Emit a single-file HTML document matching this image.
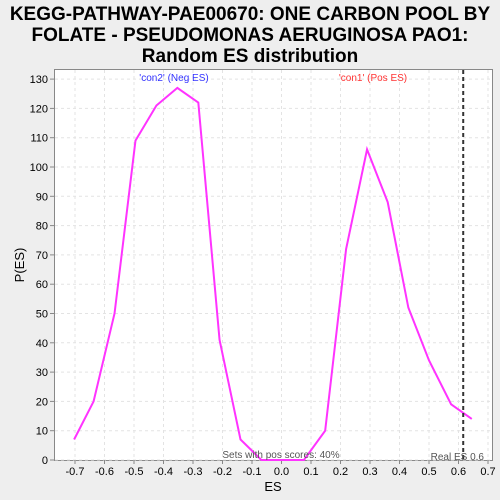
<!DOCTYPE html>
<html><head><meta charset="utf-8"><style>
body{margin:0;background:#eeeeee;font-family:"Liberation Sans",sans-serif;}
</style></head><body>
<svg width="500" height="500" style="display:block">
<rect x="0" y="0" width="500" height="500" fill="#eeeeee"/>
<g font-size="19" font-weight="bold" text-anchor="middle" fill="#000">
<text x="250" y="20">KEGG-PATHWAY-PAE00670: ONE CARBON POOL BY</text>
<text x="250" y="41">FOLATE - PSEUDOMONAS AERUGINOSA PAO1:</text>
<text x="250" y="62">Random ES distribution</text>
</g>
<rect x="54.5" y="69.5" width="438" height="391" fill="#fff" stroke="#888"/>
<g id="grid"></g><g id="axes"></g><g id="series"></g>
<text x="273" y="491" font-size="13" text-anchor="middle">ES</text>
<text x="24" y="265" font-size="13" text-anchor="middle" transform="rotate(-90 24 265)">P(ES)</text>
<text x="174" y="81" font-size="10" fill="#3333ff" text-anchor="middle">'con2' (Neg ES)</text>
<text x="373" y="81" font-size="10" fill="#ff3333" text-anchor="middle">'con1' (Pos ES)</text>
<text x="281" y="458" font-size="10" fill="#555" text-anchor="middle">Sets with pos scores: 40%</text>
<text x="484" y="460" font-size="10" fill="#555" text-anchor="end">Real ES 0.6</text>
</svg>
<script>
const esValues=[-0.703,-0.637,-0.566,-0.495,-0.424,-0.353,-0.282,-0.21,-0.139,-0.068,0.005,0.076,0.148,0.219,0.29,0.36,0.43,0.50,0.575,0.645];
const pValues=[7,20,50,109,121,127,122,41,7,0,0,0,10,72,106,88,52,34,19,14];
const xTicks=[-0.7,-0.6,-0.5,-0.4,-0.3,-0.2,-0.1,0,0.1,0.2,0.3,0.4,0.5,0.6,0.7];
const yTicks=[0,10,20,30,40,50,60,70,80,90,100,110,120,130];
const realES=[0.616];
const NS="http://www.w3.org/2000/svg";
const xs=v=>281.5+v*295, ys=v=>460-v*2.93;
function mk(t,a,p){const e=document.createElementNS(NS,t);for(const k in a)e.setAttribute(k,a[k]);p.appendChild(e);return e;}
const g=document.getElementById('grid'),ax=document.getElementById('axes'),s=document.getElementById('series');
xTicks.forEach(v=>{const x=xs(v);
const l=mk('line',{x1:x,x2:x,y1:70,y2:460,stroke:'#e3e3e3','stroke-dasharray':'3,3'},g);

mk('line',{x1:x,x2:x,y1:460,y2:464,stroke:'#888'},ax);
const t=mk('text',{x:x,y:475,'font-size':11,'text-anchor':'middle'},ax);t.textContent=v.toFixed(1);
});
yTicks.forEach(v=>{const y=ys(v);
const l=mk('line',{x1:55,x2:492,y1:y,y2:y,stroke:'#e3e3e3','stroke-dasharray':'3,3'},g);

mk('line',{x1:50,x2:54,y1:y,y2:y,stroke:'#888'},ax);
const t=mk('text',{x:48,y:y+4,'font-size':11,'text-anchor':'end'},ax);t.textContent=v;
});
const pl=mk('polyline',{points:esValues.map((v,i)=>xs(v)+','+ys(pValues[i])).join(' '),fill:'none',stroke:'#ff33ff','stroke-width':2},s);

realES.forEach(v=>{const l=mk('line',{x1:xs(v),x2:xs(v),y1:70,y2:460,stroke:'#333','stroke-width':2,'stroke-dasharray':'4,3'},s);
});
</script>
</body></html>
